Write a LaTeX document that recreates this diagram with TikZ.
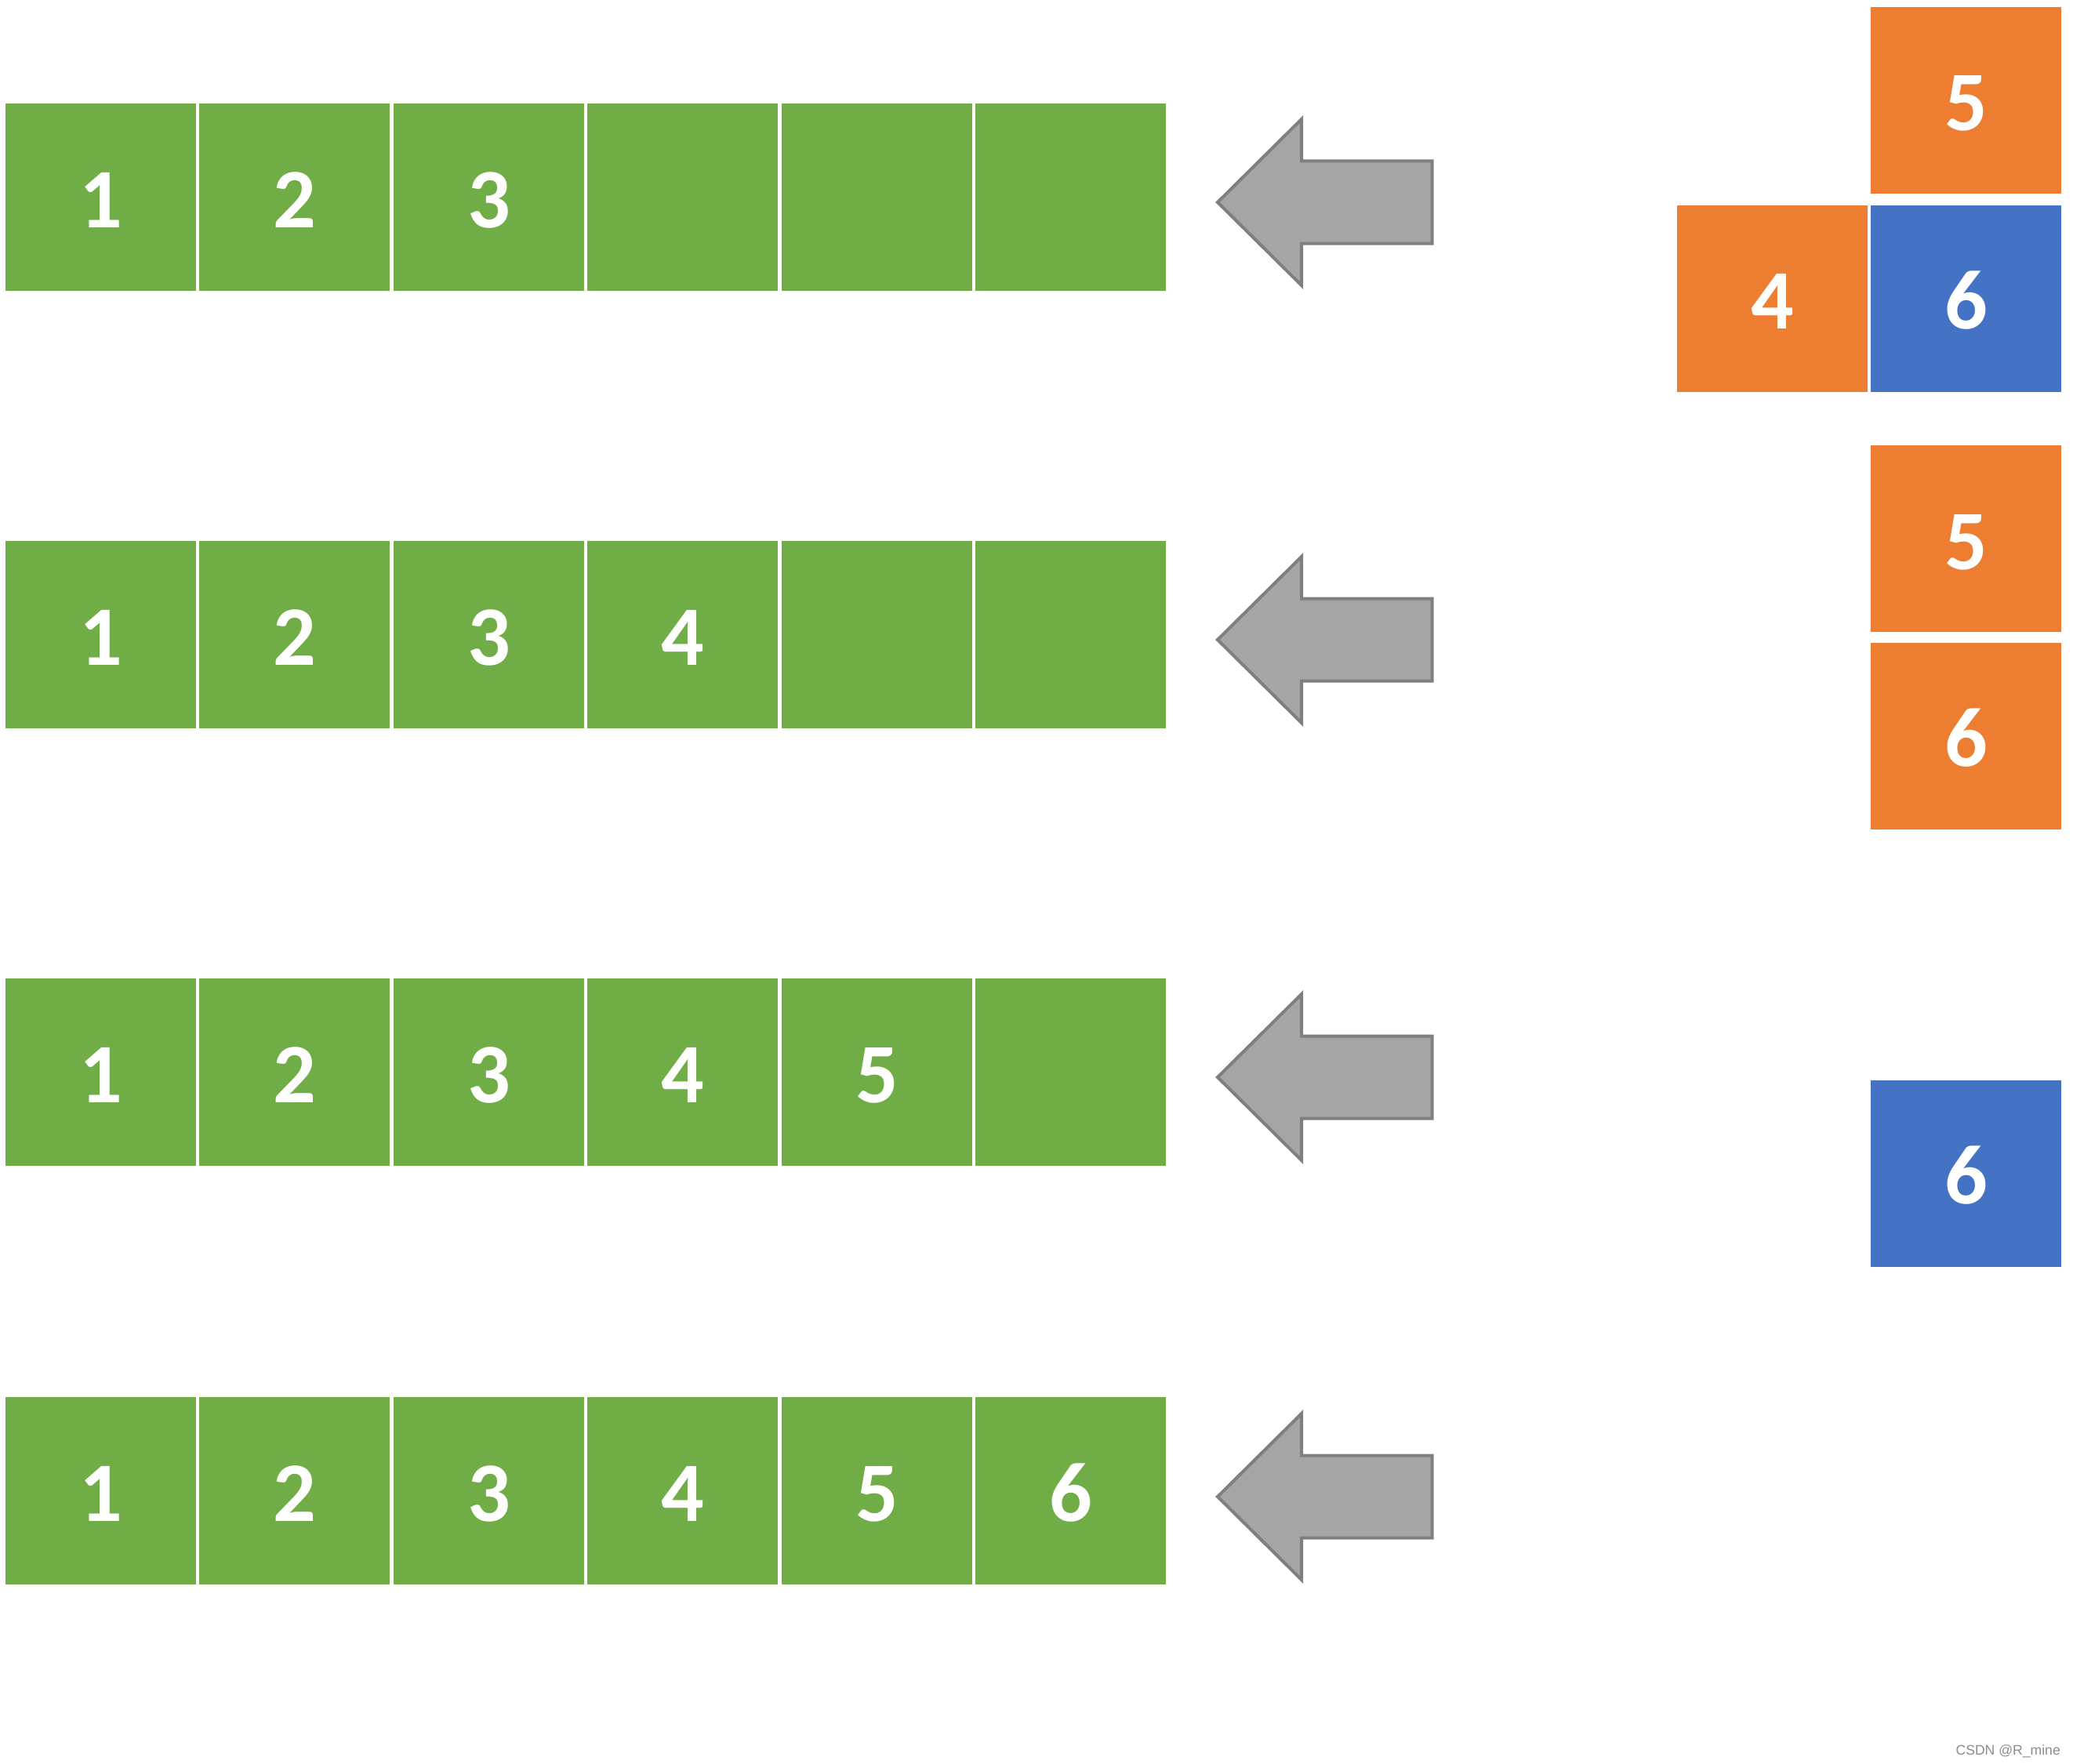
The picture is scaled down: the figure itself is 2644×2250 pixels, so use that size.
\documentclass[tikz,border=0pt]{standalone}
\usepackage{fontspec}
\newfontfamily\digfont{Carlito}
\newfontfamily\wmfont{Liberation Sans}
\definecolor{cgreen}{HTML}{70AD47}
\definecolor{corange}{HTML}{ED7D31}
\definecolor{cblue}{HTML}{4472C4}
\definecolor{arrfill}{HTML}{A5A5A5}
\definecolor{arrline}{HTML}{7F7F7F}
\definecolor{wmgray}{HTML}{8C8C8C}
\tikzset{
  cellbox/.style={rectangle, inner sep=0pt, minimum width=243pt, minimum height=239pt,
    anchor=north west, fill=cgreen, text=white, text height=78pt, text depth=0pt,
    font=\digfont\bfseries\fontsize{108}{110}\selectfont},
  blockbox/.style={cellbox, minimum height=238pt},
  arrowshape/.style={fill=arrfill, draw=arrline, line width=4pt, line join=miter},
}
\begin{document}
\begin{tikzpicture}[x=1pt, y=-1pt]
\useasboundingbox (0,0) rectangle (2644,2250);
\fill[white] (0,0) rectangle (2644,2250);
% rows of cells
\foreach \r/\y/\k in {1/132/3, 2/690/4, 3/1248/5, 4/1782/6} {
  \foreach \c in {1,...,6} {
    \pgfmathsetmacro\xx{6.7+247.5*(\c-1)}
    \ifnum\c>\k \def\tt{}\else\edef\tt{\c}\fi
    \node[cellbox] (r\r c\c) at (\xx,\y) {\tt};
  }
}
% arrows
\foreach \yc in {258,816,1374,1909} {
  \draw[arrowshape] (1826.7,\yc-52.5) -- (1660,\yc-52.5) -- (1660,\yc-106) -- (1553,\yc)
    -- (1660,\yc+106) -- (1660,\yc+52.5) -- (1826.7,\yc+52.5) -- cycle;
}
% right-hand blocks
\node[blockbox, fill=corange] (a5) at (2386,8.5) {5};
\node[blockbox, fill=corange] (a4) at (2139,261.5) {4};
\node[blockbox, fill=cblue] (a6) at (2386,261.5) {6};
\node[blockbox, fill=corange] (b5) at (2386,568) {5};
\node[blockbox, fill=corange] (b6) at (2386,819.5) {6};
\node[blockbox, fill=cblue] (c6) at (2386,1377.5) {6};
% watermark
\node[anchor=base east, inner sep=0pt, text=wmgray, font=\wmfont\fontsize{17.6}{18}\selectfont] (wm) at (2628,2238) {CSDN @R\_mine};
\end{tikzpicture}
\end{document}
